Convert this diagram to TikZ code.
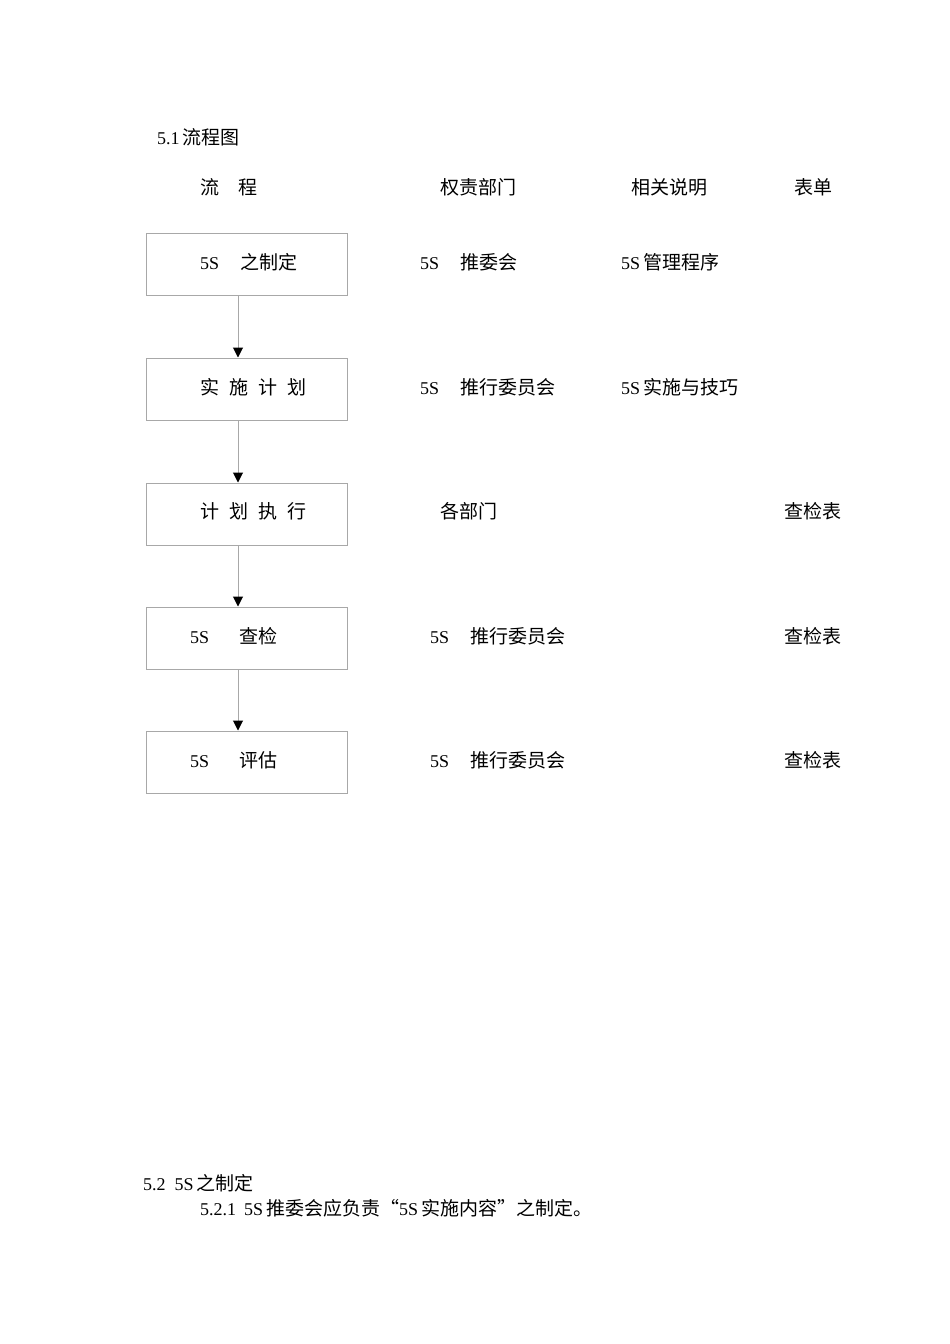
\documentclass[tikz,border=0pt]{standalone}
\usepackage{fontspec}
\setmainfont{Liberation Serif}
\newfontfamily\cjk{Noto Sans CJK SC}
\usetikzlibrary{arrows.meta}
\newcommand\zh[1]{{\cjk\fontsize{19}{21}\selectfont #1}}
\definecolor{boxgray}{HTML}{A8A8A8}
\tikzset{
  txt/.style={anchor=west, inner sep=0pt, font=\fontsize{18}{21}\selectfont},
  stepbox/.style={draw=boxgray, line width=1pt, minimum width=201pt, minimum height=62pt, inner sep=0pt},
  flow/.style={draw=boxgray, line width=1pt, -{Triangle[length=10pt,width=10pt,color=black]}}
}
\begin{document}
\begin{tikzpicture}[x=1pt,y=-1pt]
\useasboundingbox (0,0) rectangle (950,1344);
% title
\node[txt] (title) at (157,137) {5.1\,\zh{流程图}};
% headers
\node[txt] (h1) at (200,187) {\zh{流}\hspace{19pt}\zh{程}};
\node[txt] (h2) at (440,187) {\zh{权责部门}};
\node[txt] (h3) at (631,187) {\zh{相关说明}};
\node[txt] (h4) at (794,187) {\zh{表单}};
% boxes
\node[stepbox] (b1) at (246.5,264) {};
\node[stepbox] (b2) at (246.5,389) {};
\node[stepbox] (b3) at (246.5,514) {};
\node[stepbox] (b4) at (246.5,638) {};
\node[stepbox] (b5) at (246.5,762) {};
% box texts
\node[txt] (t1) at (200,262) {5S\hspace{21pt}\zh{之制定}};
\node[txt] (t2) at (200,387) {\zh{实}\hspace{10pt}\zh{施}\hspace{10pt}\zh{计}\hspace{10pt}\zh{划}};
\node[txt] (t3) at (200,511) {\zh{计}\hspace{10pt}\zh{划}\hspace{10pt}\zh{执}\hspace{10pt}\zh{行}};
\node[txt] (t4) at (190,636) {5S\hspace{30pt}\zh{查检}};
\node[txt] (t5) at (190,760) {5S\hspace{30pt}\zh{评估}};
% responsible departments
\node[txt] (d1) at (420,262) {5S\hspace{21pt}\zh{推委会}};
\node[txt] (d2) at (420,387) {5S\hspace{21pt}\zh{推行委员会}};
\node[txt] (d3) at (440,511) {\zh{各部门}};
\node[txt] (d4) at (430,636) {5S\hspace{21pt}\zh{推行委员会}};
\node[txt] (d5) at (430,760) {5S\hspace{21pt}\zh{推行委员会}};
% related notes
\node[txt] (n1) at (621,262) {5S\,\zh{管理程序}};
\node[txt] (n2) at (621,387) {5S\,\zh{实施与技巧}};
% forms
\node[txt] (f3) at (784,511) {\zh{查检表}};
\node[txt] (f4) at (784,636) {\zh{查检表}};
\node[txt] (f5) at (784,760) {\zh{查检表}};
% connectors
\draw[flow] (b1.south -| 238,0) -- (b2.north -| 238,0);
\draw[flow] (b2.south -| 238,0) -- (b3.north -| 238,0);
\draw[flow] (b3.south -| 238,0) -- (b4.north -| 238,0);
\draw[flow] (b4.south -| 238,0) -- (b5.north -| 238,0);
% bottom text
\node[txt] (s52) at (143,1183) {5.2\hspace{9pt}5S\,\zh{之制定}};
\node[txt] (s521) at (200,1208) {5.2.1\hspace{8pt}5S\,\zh{推委会应负责“}5S\,\zh{实施内容”之制定。}};
\end{tikzpicture}
\end{document}
